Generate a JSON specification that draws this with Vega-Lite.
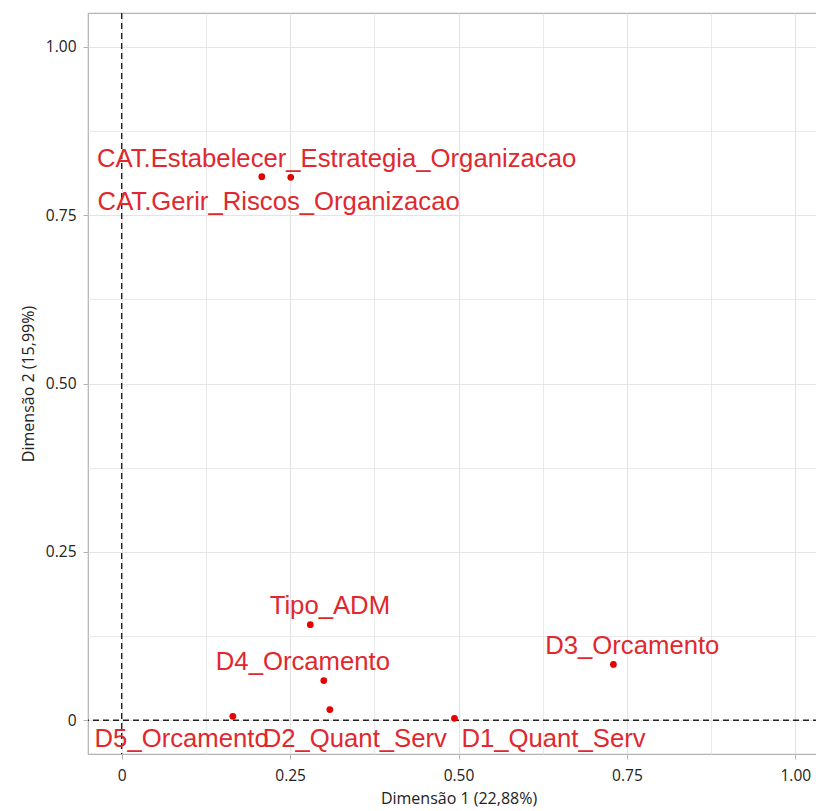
{
  "$schema": "https://vega.github.io/schema/vega-lite/v6.json",
  "autosize": {"type": "none"},
  "padding": {"left": 88, "top": 13, "right": 0, "bottom": 57},
  "width": 741,
  "height": 741,
  "background": "white",
  "config": {
    "view": {"stroke": "#b3b3b3", "strokeWidth": 1.2},
    "axis": {
      "labelFont": "Open Sans",
      "labelFontSize": 15.5,
      "labelColor": "#222222",
      "titleFont": "Open Sans",
      "titleFontSize": 16,
      "titleFontWeight": "normal",
      "titleColor": "#222222",
      "domain": false,
      "tickColor": "#b3b3b3",
      "tickSize": 5,
      "labelPadding": 5,
      "gridColor": "#e4e4e4"
    }
  },
  "datasets": {
    "pts": [
      {"var": "CAT.Estabelecer_Estrategia_Organizacao", "d1": 0.208, "d2": 0.807, "lx": 0.319, "ly": 0.834},
      {"var": "CAT.Gerir_Riscos_Organizacao", "d1": 0.251, "d2": 0.806, "lx": 0.233, "ly": 0.770},
      {"var": "Tipo_ADM", "d1": 0.280, "d2": 0.142, "lx": 0.309, "ly": 0.169},
      {"var": "D4_Orcamento", "d1": 0.300, "d2": 0.059, "lx": 0.269, "ly": 0.086},
      {"var": "D2_Quant_Serv", "d1": 0.309, "d2": 0.016, "lx": 0.346, "ly": -0.027},
      {"var": "D5_Orcamento", "d1": 0.165, "d2": 0.006, "lx": 0.089, "ly": -0.027},
      {"var": "D1_Quant_Serv", "d1": 0.494, "d2": 0.003, "lx": 0.641, "ly": -0.027},
      {"var": "D3_Orcamento", "d1": 0.730, "d2": 0.083, "lx": 0.758, "ly": 0.110}
    ],
    "zero": [{"z": 0}]
  },
  "layer": [
    {
      "data": {"name": "pts"},
      "mark": {"type": "point", "opacity": 0},
      "encoding": {
        "x": {
          "field": "d1", "type": "quantitative",
          "scale": {"domain": [-0.05, 1.05], "nice": false, "zero": false},
          "axis": {
            "title": "Dimensão 1 (22,88%)",
            "values": [0, 0.125, 0.25, 0.375, 0.5, 0.625, 0.75, 0.875, 1.0],
            "labelExpr": "datum.value == 0 ? '0' : (datum.value * 4 % 1 == 0 ? format(datum.value, '.2f') : '')",
            "tickOpacity": {"condition": {"test": "datum.value * 4 % 1 != 0", "value": 0}, "value": 1},
            "gridWidth": {"condition": {"test": "datum.value * 4 % 1 != 0", "value": 0.8}, "value": 1.2},
            "labelPadding": 9,
            "titlePadding": 7
          }
        },
        "y": {
          "field": "d2", "type": "quantitative",
          "scale": {"domain": [-0.05, 1.05], "nice": false, "zero": false},
          "axis": {
            "title": "Dimensão 2 (15,99%)",
            "values": [0, 0.125, 0.25, 0.375, 0.5, 0.625, 0.75, 0.875, 1.0],
            "labelExpr": "datum.value == 0 ? '0' : (datum.value * 4 % 1 == 0 ? format(datum.value, '.2f') : '')",
            "tickOpacity": {"condition": {"test": "datum.value * 4 % 1 != 0", "value": 0}, "value": 1},
            "gridWidth": {"condition": {"test": "datum.value * 4 % 1 != 0", "value": 0.8}, "value": 1.2},
            "labelPadding": 7,
            "titlePadding": 9
          }
        }
      }
    },
    {
      "data": {"name": "zero"},
      "mark": {"type": "rule", "color": "#222222", "strokeDash": [6, 4], "strokeWidth": 1.4},
      "encoding": {"x": {"field": "z", "type": "quantitative"}}
    },
    {
      "data": {"name": "zero"},
      "mark": {"type": "rule", "color": "#222222", "strokeDash": [6, 4], "strokeWidth": 1.4},
      "encoding": {"y": {"field": "z", "type": "quantitative"}}
    },
    {
      "data": {"name": "pts"},
      "mark": {"type": "circle", "color": "#e60000", "opacity": 1, "size": 45},
      "encoding": {
        "x": {"field": "d1", "type": "quantitative"},
        "y": {"field": "d2", "type": "quantitative"}
      }
    },
    {
      "data": {"name": "pts"},
      "mark": {"type": "text", "font": "Liberation Sans", "fontSize": 25.7, "color": "#e0282e", "align": "center", "baseline": "middle"},
      "encoding": {
        "x": {"field": "lx", "type": "quantitative"},
        "y": {"field": "ly", "type": "quantitative"},
        "text": {"field": "var"}
      }
    }
  ]
}
